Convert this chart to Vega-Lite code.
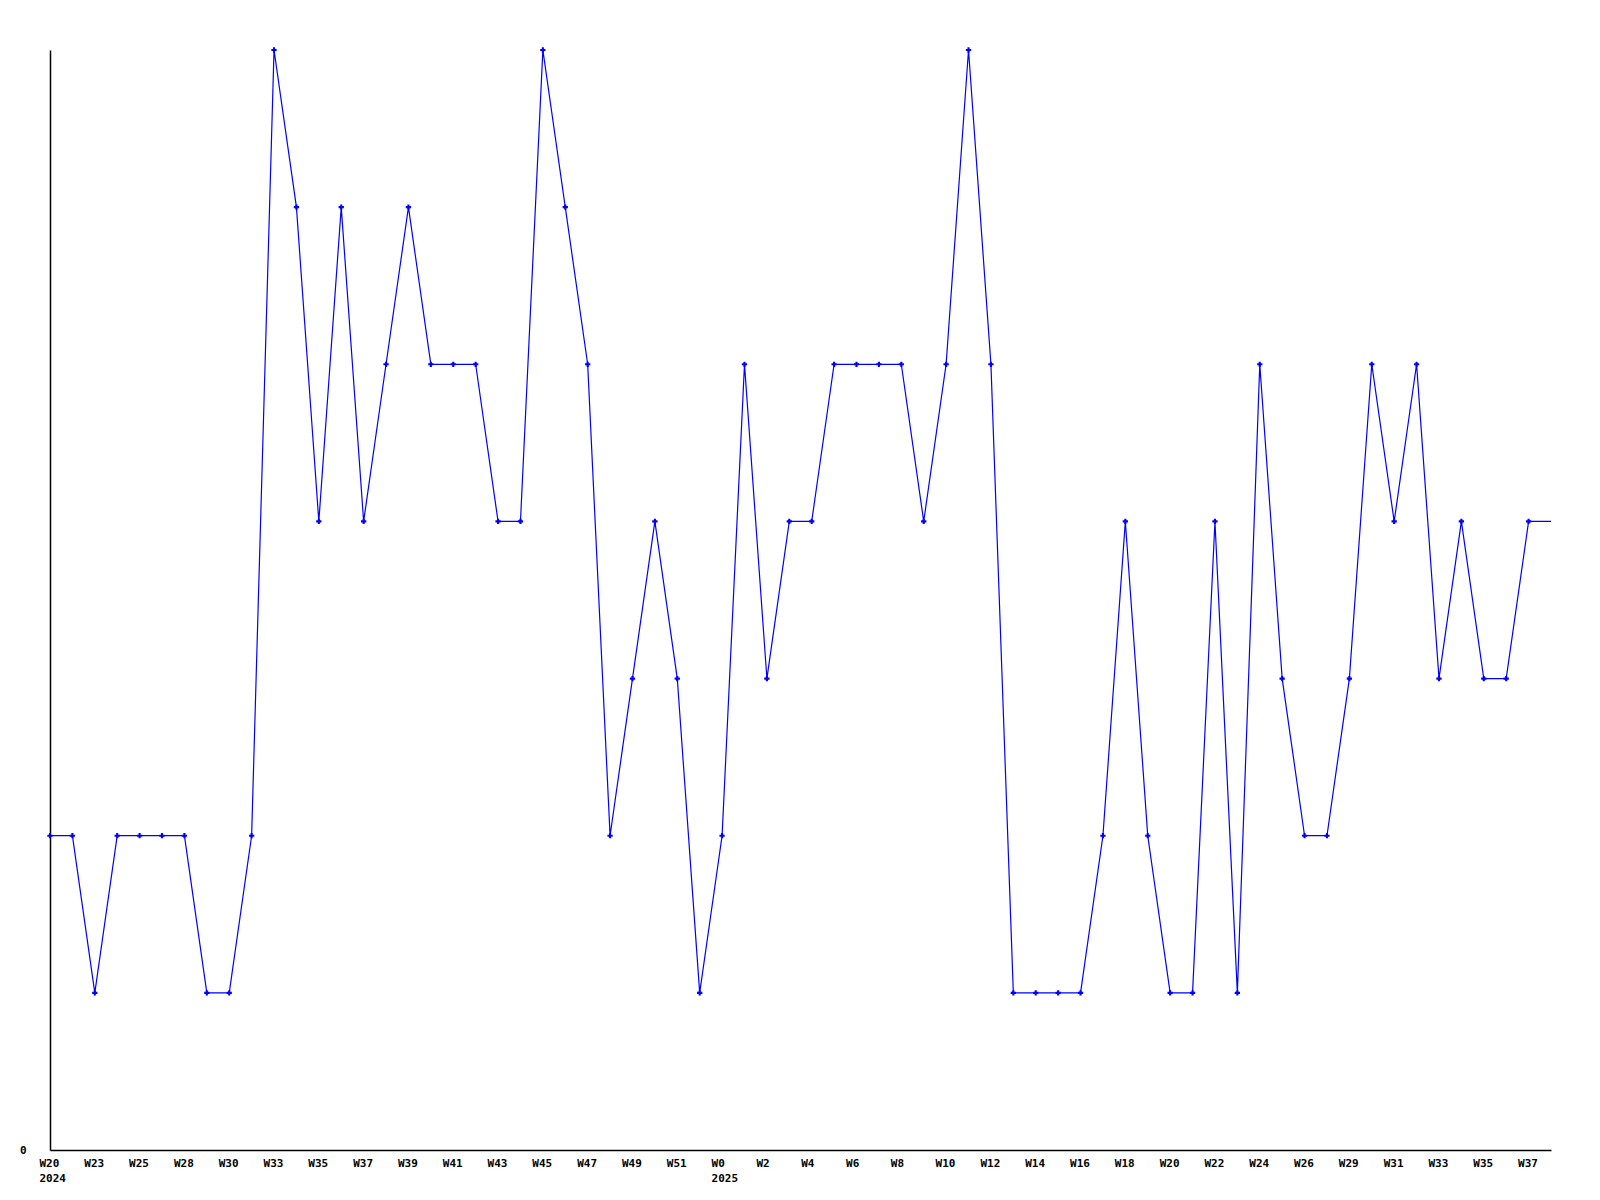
{
  "$schema": "https://vega.github.io/schema/vega-lite/v6.json",
  "width": 1501,
  "height": 1100,
  "autosize": {"type": "none"},
  "padding": {"left": 50, "top": 50, "right": 49, "bottom": 50},
  "background": "white",
  "config": {"view": {"stroke": null}},
  "data": {"values": [
    {"t": "2024-W20*", "v": 2}, {"t": "_1", "v": 2},
    {"t": "2024-W23", "v": 1}, {"t": "_3", "v": 2},
    {"t": "2024-W25", "v": 2}, {"t": "_5", "v": 2},
    {"t": "2024-W28", "v": 2}, {"t": "_7", "v": 1},
    {"t": "2024-W30", "v": 1}, {"t": "_9", "v": 2},
    {"t": "2024-W33", "v": 7}, {"t": "_11", "v": 6},
    {"t": "2024-W35", "v": 4}, {"t": "_13", "v": 6},
    {"t": "2024-W37", "v": 4}, {"t": "_15", "v": 5},
    {"t": "2024-W39", "v": 6}, {"t": "_17", "v": 5},
    {"t": "2024-W41", "v": 5}, {"t": "_19", "v": 5},
    {"t": "2024-W43", "v": 4}, {"t": "_21", "v": 4},
    {"t": "2024-W45", "v": 7}, {"t": "_23", "v": 6},
    {"t": "2024-W47", "v": 5}, {"t": "_25", "v": 2},
    {"t": "2024-W49", "v": 3}, {"t": "_27", "v": 4},
    {"t": "2024-W51", "v": 3}, {"t": "_29", "v": 1},
    {"t": "2025-W0*", "v": 2}, {"t": "_31", "v": 5},
    {"t": "2025-W2", "v": 3}, {"t": "_33", "v": 4},
    {"t": "2025-W4", "v": 4}, {"t": "_35", "v": 5},
    {"t": "2025-W6", "v": 5}, {"t": "_37", "v": 5},
    {"t": "2025-W8", "v": 5}, {"t": "_39", "v": 4},
    {"t": "2025-W10", "v": 5}, {"t": "_41", "v": 7},
    {"t": "2025-W12", "v": 5}, {"t": "_43", "v": 1},
    {"t": "2025-W14", "v": 1}, {"t": "_45", "v": 1},
    {"t": "2025-W16", "v": 1}, {"t": "_47", "v": 2},
    {"t": "2025-W18", "v": 4}, {"t": "_49", "v": 2},
    {"t": "2025-W20", "v": 1}, {"t": "_51", "v": 1},
    {"t": "2025-W22", "v": 4}, {"t": "_53", "v": 1},
    {"t": "2025-W24", "v": 5}, {"t": "_55", "v": 3},
    {"t": "2025-W26", "v": 2}, {"t": "_57", "v": 2},
    {"t": "2025-W29", "v": 3}, {"t": "_59", "v": 5},
    {"t": "2025-W31", "v": 4}, {"t": "_61", "v": 5},
    {"t": "2025-W33", "v": 3}, {"t": "_63", "v": 4},
    {"t": "2025-W35", "v": 3}, {"t": "_65", "v": 3},
    {"t": "2025-W37", "v": 4}, {"t": "_67", "v": 4}
  ]},
  "encoding": {
    "x": {
      "field": "t", "type": "nominal", "sort": null,
      "scale": {"type": "point", "padding": 0},
      "axis": {
        "title": null, "labelAngle": 0, "ticks": false, "grid": false,
        "domainColor": "black", "domainWidth": 1.5,
        "labelAlign": "left", "labelBaseline": "top", "labelOffset": -11, "labelPadding": 7,
        "labelFont": "DejaVu Sans Mono", "labelFontWeight": "bold", "labelFontSize": 11,
        "labelColor": "black", "labelLineHeight": 15, "labelOverlap": false,
        "labelExpr": "indexof(datum.value, '_') == 0 ? '' : (indexof(datum.value, '*') > 0 ? [slice(datum.value, 5, -1), slice(datum.value, 0, 4)] : slice(datum.value, 5))"
      }
    },
    "y": {
      "field": "v", "type": "quantitative",
      "scale": {"domain": [0, 7], "nice": false, "zero": true},
      "axis": {
        "title": null, "values": [0], "ticks": false, "grid": false,
        "domainColor": "black", "domainWidth": 1.5,
        "labelPadding": 24, "labelFont": "DejaVu Sans Mono", "labelFontWeight": "bold",
        "labelFontSize": 11, "labelColor": "black"
      }
    }
  },
  "layer": [
    {"mark": {"type": "line", "color": "#0000ff", "strokeWidth": 1.2}},
    {
      "transform": [{"filter": "datum.t != '_67'"}],
      "mark": {"type": "point", "shape": "cross", "filled": true, "color": "#0000ff", "size": 28, "opacity": 1}
    }
  ]
}
